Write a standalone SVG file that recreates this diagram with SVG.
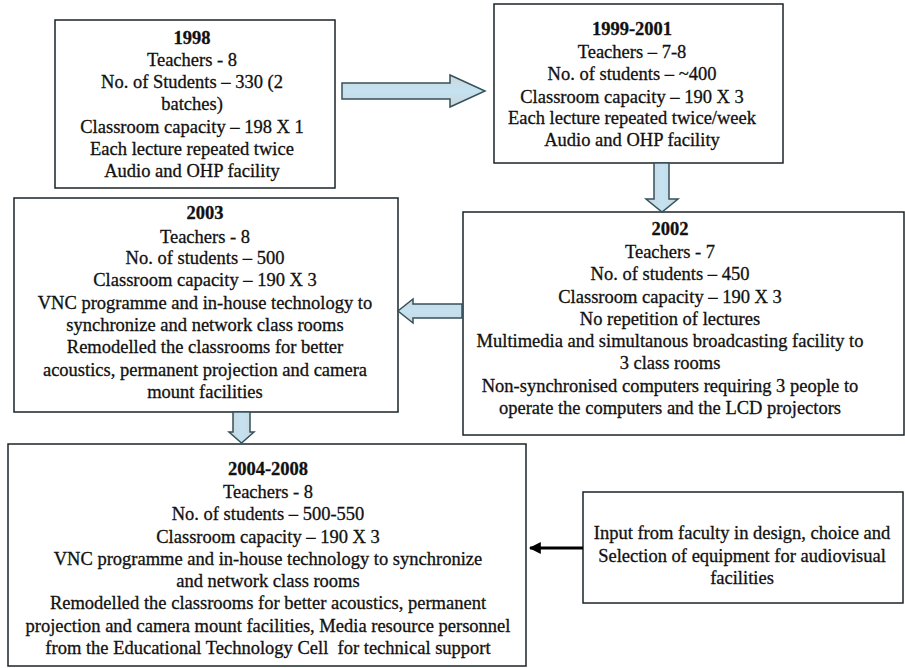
<svg xmlns="http://www.w3.org/2000/svg" width="905" height="668" viewBox="0 0 905 668">
<style>
.box{fill:#fff;stroke:#1b2429;stroke-width:1.5}
.t{font-family:"Liberation Serif","Times New Roman",serif;font-size:18.5px;fill:#111;stroke:#111;stroke-width:0.3;text-anchor:middle}
.b{font-weight:bold}
.blk{fill:url(#gh);stroke:#34525c;stroke-width:1.5}
.blkv{fill:url(#gv);stroke:#34525c;stroke-width:1.5}
</style>
<defs>
<linearGradient id="gh" x1="0" y1="0" x2="0" y2="1">
<stop offset="0" stop-color="#cfd6da"/><stop offset="0.5" stop-color="#c4e2f2"/><stop offset="1" stop-color="#cfd6da"/>
</linearGradient>
<linearGradient id="gv" x1="0" y1="0" x2="1" y2="0">
<stop offset="0" stop-color="#cfd6da"/><stop offset="0.5" stop-color="#c4e2f2"/><stop offset="1" stop-color="#cfd6da"/>
</linearGradient>
<marker id="ah" viewBox="0 0 10 10" refX="9" refY="5" markerWidth="4" markerHeight="4" orient="auto">
<path d="M0,0 L10,5 L0,10 Z" fill="#000"/>
</marker>
</defs>
<rect width="905" height="668" fill="#fff"/>

<g id="n1998">
<rect class="box" x="55" y="20" width="280" height="168"/>
<text class="t" x="192"><tspan class="b" x="192" y="44">1998</tspan><tspan x="192" y="66">Teachers - 8</tspan><tspan x="192" y="88">No. of Students – 330 (2</tspan><tspan x="192" y="110">batches)</tspan><tspan x="192" y="133">Classroom capacity – 198 X 1</tspan><tspan x="192" y="155">Each lecture repeated twice</tspan><tspan x="192" y="177">Audio and OHP facility</tspan></text>
</g>

<g id="n1999">
<rect class="box" x="494" y="4" width="289" height="159"/>
<text class="t"><tspan class="b" x="632" y="35">1999-2001</tspan><tspan x="632" y="58">Teachers – 7-8</tspan><tspan x="632" y="80">No. of students – ~400</tspan><tspan x="632" y="103">Classroom capacity – 190 X 3</tspan><tspan x="632" y="124">Each lecture repeated twice/week</tspan><tspan x="632" y="146">Audio and OHP facility</tspan></text>
</g>

<g id="n2003">
<rect class="box" x="14" y="198" width="384" height="214"/>
<text class="t"><tspan class="b" x="205" y="219">2003</tspan><tspan x="205" y="243">Teachers - 8</tspan><tspan x="205" y="264">No. of students – 500</tspan><tspan x="205" y="286">Classroom capacity – 190 X 3</tspan><tspan x="205" y="309">VNC programme and in-house technology to</tspan><tspan x="205" y="331">synchronize and network class rooms</tspan><tspan x="205" y="353">Remodelled the classrooms for better</tspan><tspan x="205" y="376">acoustics, permanent projection and camera</tspan><tspan x="205" y="398">mount facilities</tspan></text>
</g>

<g id="n2002">
<rect class="box" x="463" y="212" width="441" height="223"/>
<text class="t"><tspan class="b" x="670" y="235">2002</tspan><tspan x="670" y="258">Teachers - 7</tspan><tspan x="670" y="280">No. of students – 450</tspan><tspan x="670" y="303">Classroom capacity – 190 X 3</tspan><tspan x="670" y="325">No repetition of lectures</tspan><tspan x="670" y="347">Multimedia and simultanous broadcasting facility to</tspan><tspan x="670" y="369">3 class rooms</tspan><tspan x="670" y="392">Non-synchronised computers requiring 3 people to</tspan><tspan x="670" y="414">operate the computers and the LCD projectors</tspan></text>
</g>

<g id="n2004">
<rect class="box" x="8" y="444" width="518" height="222"/>
<text class="t"><tspan class="b" x="268" y="475">2004-2008</tspan><tspan x="268" y="498">Teachers - 8</tspan><tspan x="268" y="520">No. of students – 500-550</tspan><tspan x="268" y="543">Classroom capacity – 190 X 3</tspan><tspan x="268" y="565">VNC programme and in-house technology to synchronize</tspan><tspan x="268" y="587">and network class rooms</tspan><tspan x="268" y="609">Remodelled the classrooms for better acoustics, permanent</tspan><tspan x="268" y="632">projection and camera mount facilities, Media resource personnel</tspan><tspan x="268" y="654">from the Educational Technology Cell&#160; for technical support</tspan></text>
</g>

<g id="ninput">
<rect class="box" x="583" y="492" width="320" height="111"/>
<text class="t"><tspan x="742" y="539">Input from faculty in design, choice and</tspan><tspan x="742" y="562">Selection of equipment for audiovisual</tspan><tspan x="742" y="584">facilities</tspan></text>
</g>

<g id="connectors">
<path class="blk" d="M342,83 H450 V75 L485,91 L450,107 V99 H342 Z"/>
<path class="blkv" d="M654,163 H669 V199 H678 L662,212 L646,199 H654 Z"/>
<path class="blk" d="M462,304 H413 V299 L398,311 L413,323 V318 H462 Z"/>
<path class="blkv" d="M233,412 H250 V432 H254 L241.5,443 L229,432 H233 Z"/>
<line x1="583" y1="548" x2="530" y2="548" stroke="#000" stroke-width="3" marker-end="url(#ah)"/>
</g>
</svg>
